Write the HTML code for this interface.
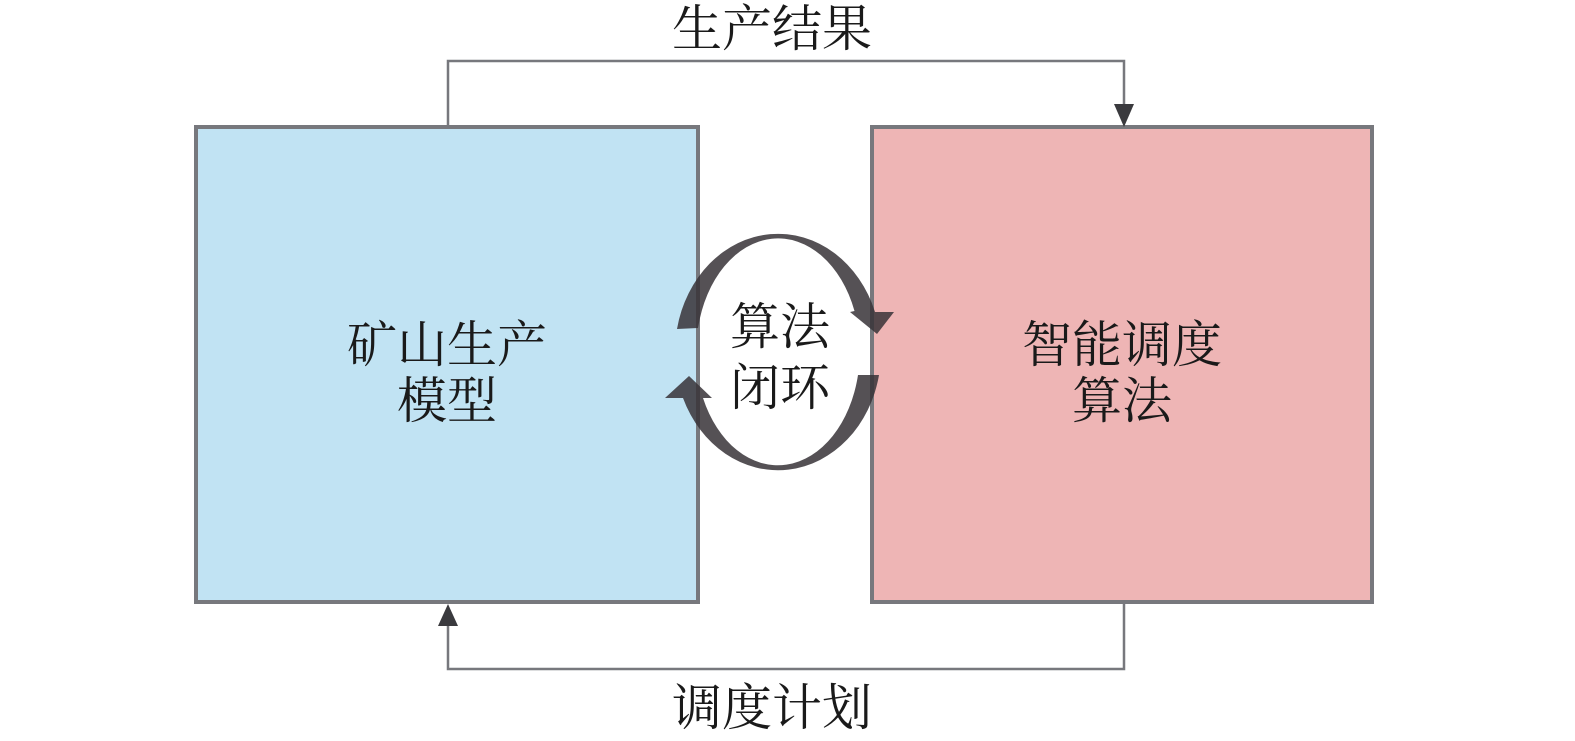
<!DOCTYPE html>
<html><head><meta charset="utf-8"><style>
html,body{margin:0;padding:0;background:#fff;}
svg{display:block}
text{font-family:"Liberation Serif","Noto Serif CJK SC",serif;fill:#1a1a1a;}
</style></head><body>
<svg width="1575" height="741" viewBox="0 0 1575 741" xmlns="http://www.w3.org/2000/svg">
<rect x="196" y="127" width="502" height="475" fill="#c1e3f3" stroke="#77787d" stroke-width="4"/>
<rect x="872" y="127" width="500" height="475" fill="#eeb5b5" stroke="#77787d" stroke-width="4"/>
<polyline points="448,125 448,61 1124,61 1124,108" fill="none" stroke="#77787d" stroke-width="2.5"/>
<polygon points="1114,104 1134,104 1124,127" fill="#3a3a3e"/>
<polyline points="1124,604 1124,669 448,669 448,622" fill="none" stroke="#77787d" stroke-width="2.5"/>
<polygon points="438,626 458,626 448,604" fill="#3a3a3e"/>
<!-- upper arc -->
<path d="M677,329 A103,118 0 0 1 875,312 L894,312 L877,334 L850,312 L854.5,311 A82,114 0 0 0 698,328 Z" fill="rgba(55,50,55,0.85)"/>
<!-- lower arc -->
<path d="M879,375 A103,118 0 0 1 683,398 L665,398 L689,376 L712,398 L703,398 A82,114 0 0 0 858,375 Z" fill="rgba(55,50,55,0.85)"/>
<text x="772" y="46" font-size="50" text-anchor="middle">生产结果</text>
<text x="772" y="725" font-size="50" text-anchor="middle">调度计划</text>
<text x="447" y="362" font-size="50" text-anchor="middle">矿山生产</text>
<text x="447" y="418" font-size="50" text-anchor="middle">模型</text>
<text x="1122" y="362" font-size="50" text-anchor="middle">智能调度</text>
<text x="1122" y="418" font-size="50" text-anchor="middle">算法</text>
<text x="780" y="344" font-size="50" text-anchor="middle">算法</text>
<text x="780" y="405" font-size="50" text-anchor="middle">闭环</text>
</svg>
</body></html>
